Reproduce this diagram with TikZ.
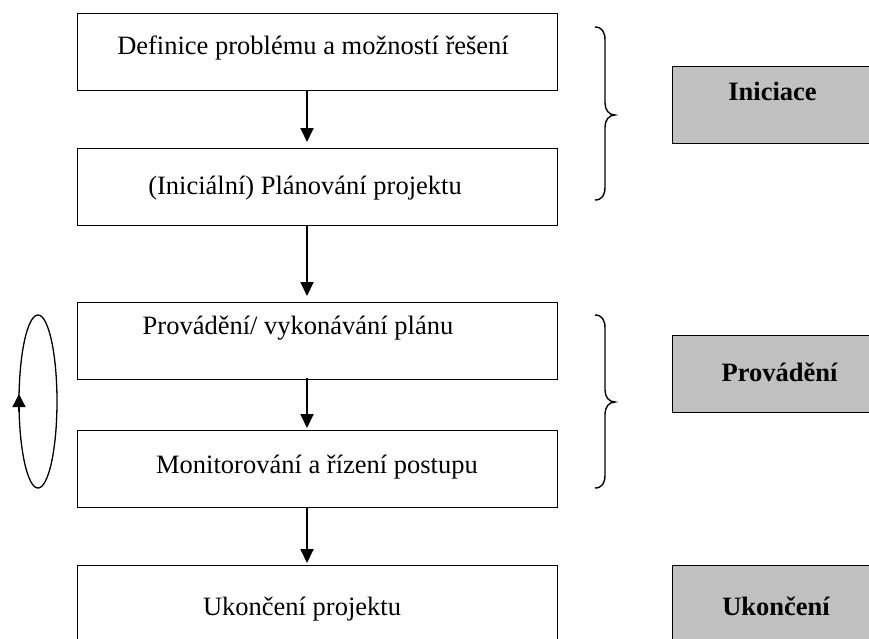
\documentclass[tikz,border=0pt]{standalone}
\usepackage{fontspec}
\setmainfont{Liberation Serif}
\usetikzlibrary{arrows.meta}
\definecolor{phasegray}{RGB}{192,192,192}
\begin{document}
\begin{tikzpicture}[x=1pt,y=-1pt,
  box/.style={draw,line width=1.4pt,minimum width=480pt,minimum height=77pt,inner sep=0pt,anchor=north west},
  phase/.style={draw,line width=1.4pt,fill=phasegray,minimum width=240pt,minimum height=77pt,inner sep=0pt,anchor=north west},
  txt/.style={font=\fontsize{26.5}{30}\selectfont,anchor=base,inner sep=0pt},
  btxt/.style={font=\fontsize{26.5}{30}\selectfont\bfseries,anchor=base,inner sep=0pt},
  arr/.style={line width=1.8pt,-{Triangle[length=14pt,width=13pt]}},
  brc/.style={line width=1.4pt},
  loopline/.style={line width=1.3pt}]
\useasboundingbox (0,0) rectangle (869,638);
\begin{scope}
\clip (0,0) rectangle (869,638);
% main boxes
\node[box] (b1) at (77,13) {};
\node[box] (b2) at (77,148) {};
\node[box] (b3) at (77,302) {};
\node[box] (b4) at (77,430) {};
\node[box] (b5) at (77,565) {};
\node[txt] (t1) at (313,54) {Definice problému a možností řešení};
\node[txt] (t2) at (305,194) {(Iniciální) Plánování projektu};
\node[txt] (t3) at (298,334) {Provádění/ vykonávání plánu};
\node[txt] (t4) at (317,473) {Monitorování a řízení postupu};
\node[txt] (t5) at (302,615) {Ukončení projektu};
% arrows
\coordinate (a1s) at (307,90);  \coordinate (a1e) at (307,142);
\coordinate (a2s) at (307,225); \coordinate (a2e) at (307,296);
\coordinate (a3s) at (307,378); \coordinate (a3e) at (307,428);
\coordinate (a4s) at (307,507); \coordinate (a4e) at (307,563);
\draw[arr] (a1s) -- (a1e);
\draw[arr] (a2s) -- (a2e);
\draw[arr] (a3s) -- (a3e);
\draw[arr] (a4s) -- (a4e);
% loop
\draw[loopline] (38,401.5) ellipse [x radius=19pt, y radius=86.5pt];
\coordinate (la) at (19,412);
\coordinate (lb) at (19,394);
\draw[loopline,-{Triangle[length=13pt,width=13pt]}] (la) -- (lb);
% braces
\draw[brc] (595,27) .. controls (602,27) and (605,32) .. (605,40) -- (605,103)
  .. controls (605,110) and (609,115) .. (615,115)
  .. controls (609,115) and (605,120) .. (605,127) -- (605,187)
  .. controls (605,195) and (602,200) .. (595,200);
\draw[brc] (595,315) .. controls (602,315) and (605,320) .. (605,328) -- (605,390)
  .. controls (605,397) and (609,402) .. (615,402)
  .. controls (609,402) and (605,407) .. (605,414) -- (605,475)
  .. controls (605,483) and (602,488) .. (595,488);
% phase boxes
\node[phase] (g1) at (672,66) {};
\node[phase] (g2) at (672,335) {};
\node[phase] (g3) at (672,565) {};
\node[btxt] (p1) at (772.5,100) {Iniciace};
\node[btxt] (p2) at (779.5,381.5) {Provádění};
\node[btxt] (p3) at (776,615) {Ukončení};
\end{scope}
\end{tikzpicture}
\end{document}
